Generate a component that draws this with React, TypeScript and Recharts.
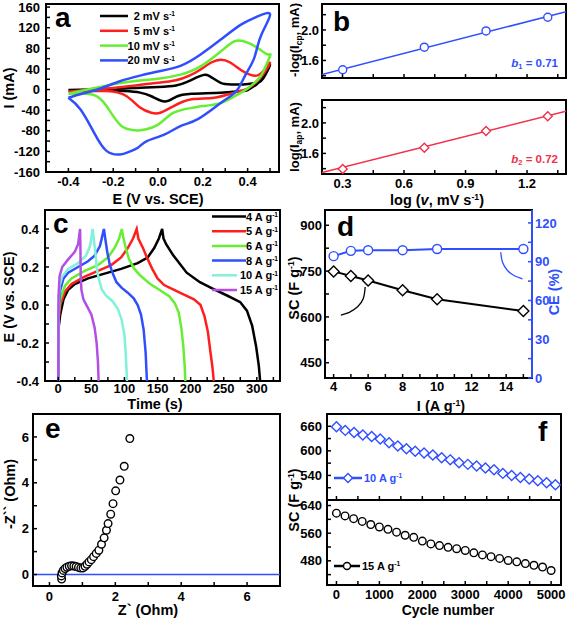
import React from "react";
import { Line, LineChart, ReferenceArea, ReferenceLine, XAxis, YAxis } from "recharts";

// ---------- a: CV loops, [E (V vs SCE), I (mA)] anodic sweep then back
const CV_RATES = ["2", "5", "10", "20"];
const CV_COLORS = ["#000000", "#ff1e1e", "#66ee33", "#2f4fff"];
const CV_2 = [
  [-0.4, -1], [-0.3, 0], [-0.2, 1.5], [-0.1, 3], [0, 5], [0.08, 8], [0.13, 15], [0.17, 23], [0.2, 28],
  [0.23, 26], [0.28, 13], [0.33, 10], [0.38, 10], [0.43, 12], [0.47, 22], [0.5, 48],
  [0.47, 25], [0.44, 10], [0.4, -1], [0.37, -3], [0.28, -6], [0.15, -8], [0.08, -14], [0.03, -23],
  [-0.03, -13], [-0.08, -6], [-0.15, -3], [-0.3, -1], [-0.4, -1],
];
const CV_5 = [
  [-0.4, -4], [-0.3, -1], [-0.2, 3], [-0.1, 8], [0, 13], [0.08, 18], [0.14, 27], [0.19, 39], [0.24, 53],
  [0.28, 58], [0.32, 53], [0.37, 38], [0.41, 29], [0.44, 27], [0.47, 36], [0.5, 52],
  [0.47, 30], [0.44, 15], [0.4, 2], [0.34, -6], [0.25, -16], [0.15, -19], [0.07, -32], [0.01, -45],
  [-0.03, -45], [-0.08, -35], [-0.14, -13], [-0.23, -3], [-0.4, -4],
];
const CV_10 = [
  [-0.4, -8], [-0.26, 5], [-0.11, 16], [0, 21], [0.1, 29], [0.19, 45], [0.28, 74], [0.33, 91],
  [0.36, 95], [0.4, 91], [0.45, 79], [0.49, 68], [0.5, 65],
  [0.47, 35], [0.445, 19], [0.4, 2], [0.37, -6], [0.28, -26], [0.2, -32], [0.16, -35], [0.07, -45],
  [0, -68], [-0.08, -79], [-0.12, -78], [-0.17, -68], [-0.23, -32], [-0.29, -10], [-0.4, -8],
];
const CV_20 = [
  [-0.4, -16], [-0.34, -8], [-0.27, 0], [-0.17, 16], [-0.08, 27], [0, 35], [0.1, 46], [0.19, 68],
  [0.28, 97], [0.37, 126], [0.44, 141], [0.5, 146],
  [0.46, 105], [0.43, 62], [0.39, 28], [0.355, 0], [0.32, -14], [0.28, -26], [0.18, -57], [0.1, -71],
  [0.03, -87], [-0.05, -100], [-0.09, -113], [-0.13, -121], [-0.17, -126], [-0.23, -119],
  [-0.285, -84], [-0.345, -39], [-0.4, -16],
];
const CV_LOOPS = [CV_2, CV_5, CV_10, CV_20];
const A_X_TICKS = [-0.4, -0.3, -0.2, -0.1, 0, 0.1, 0.2, 0.3, 0.4, 0.5];
const A_X_LABELS = [-0.4, -0.2, 0, 0.2, 0.4];
const A_Y_TICKS = [-160, -140, -120, -100, -80, -60, -40, -20, 0, 20, 40, 60, 80, 100, 120, 140, 160];
const A_Y_LABELS = [-160, -120, -80, -40, 0, 40, 80, 120, 160];

// ---------- b: log(v) vs log(peak current)
const B_LOGV = [0.301, 0.699, 1.0, 1.301];
const B_CATHODIC = [1.478, 1.774, 1.987, 2.166];
const B_ANODIC = [1.395, 1.673, 1.895, 2.087];
const B_FIT_X = [0.2, 1.39];
const B_FIT_CATHODIC = [1.414, 2.24];
const B_FIT_ANODIC = [1.35, 2.154];
const B_X_TICKS = [0.3, 0.45, 0.6, 0.75, 0.9, 1.05, 1.2, 1.35];
const B_X_LABELS = [0.3, 0.6, 0.9, 1.2];
const B_Y_TICKS = [1.4, 1.6, 1.8, 2.0, 2.2];
const B_Y_LABELS = [1.6, 2.0];

// ---------- c: GCD curves, [t (s), E (V)]
const GCD_RATES = ["4", "5", "6", "8", "10", "15"];
const GCD_COLORS = ["#000000", "#ff1e1e", "#66ee33", "#2f4fff", "#80f2d8", "#b44fe6"];
const GCD_4 = [
  [0, -0.4], [0.5, -0.12], [3, -0.05], [8, 0.03], [15, 0.08], [25, 0.11], [45, 0.14], [70, 0.165],
  [95, 0.19], [120, 0.22], [135, 0.25], [145, 0.3], [152, 0.35], [157, 0.4], [159, 0.35], [163, 0.32],
  [174, 0.26], [194, 0.17], [214, 0.12], [234, 0.085], [255, 0.05], [275, 0.015], [285, -0.03],
  [293, -0.11], [299, -0.22], [303, -0.32], [305, -0.4],
];
const GCD_5 = [
  [0, -0.4], [0.5, -0.08], [3, 0], [10, 0.07], [20, 0.11], [40, 0.15], [60, 0.18], [80, 0.21], [95, 0.25],
  [105, 0.3], [113, 0.35], [118.5, 0.4], [121, 0.35], [128, 0.3], [134, 0.25], [142, 0.19], [150, 0.14],
  [160, 0.105], [175, 0.08], [190, 0.055], [205, 0.03], [215, 0.0], [221, -0.06], [226, -0.14],
  [230, -0.25], [233, -0.33], [235, -0.4],
];
const GCD_6 = [
  [0, -0.4], [0.5, -0.05], [3, 0.03], [10, 0.1], [20, 0.14], [40, 0.18], [60, 0.21], [75, 0.25], [85, 0.3],
  [92, 0.35], [96, 0.4], [98, 0.36], [102, 0.3], [107, 0.24], [115, 0.19], [124, 0.155], [139, 0.11],
  [155, 0.075], [168, 0.045], [176, 0.01], [182, -0.04], [186, -0.12], [189, -0.22], [191, -0.32], [192, -0.4],
];
const GCD_8 = [
  [0, -0.4], [0.5, -0.02], [3, 0.08], [8, 0.14], [15, 0.17], [30, 0.2], [45, 0.23], [55, 0.26], [63, 0.31],
  [69, 0.4], [71, 0.35], [74, 0.28], [78, 0.21], [83, 0.16], [88, 0.12], [96, 0.09], [105, 0.065],
  [114, 0.035], [120, 0.0], [125, -0.05], [129, -0.13], [132, -0.25], [134, -0.4],
];
const GCD_10 = [
  [0, -0.4], [0.5, 0.0], [2, 0.1], [6, 0.15], [15, 0.19], [30, 0.22], [42, 0.26], [48, 0.31], [52, 0.4],
  [54, 0.34], [56, 0.28], [58, 0.2], [61, 0.14], [66, 0.08], [72, 0.05], [82, 0.02], [90, -0.02],
  [96, -0.08], [100, -0.16], [102, -0.26], [104, -0.4],
];
const GCD_15 = [
  [0, -0.4], [0.5, 0.05], [2, 0.15], [6, 0.2], [15, 0.24], [25, 0.28], [30, 0.32], [33, 0.4], [33.5, 0.3],
  [34, 0.15], [35, 0.08], [38, 0.03], [44, -0.01], [50, -0.05], [55, -0.12], [58, -0.2], [60, -0.3], [61, -0.4],
];
const GCD_CURVES = [GCD_4, GCD_5, GCD_6, GCD_8, GCD_10, GCD_15];
const C_X_TICKS = [0, 25, 50, 75, 100, 125, 150, 175, 200, 225, 250, 275, 300, 325];
const C_X_LABELS = [0, 50, 100, 150, 200, 250, 300];
const C_Y_TICKS = [-0.4, -0.3, -0.2, -0.1, 0, 0.1, 0.2, 0.3, 0.4];
const C_Y_LABELS = [-0.4, -0.2, 0, 0.2, 0.4];

// ---------- d: rate capability
const D_CURRENT = [4, 5, 6, 8, 10, 15];
const D_SC = [749, 734, 719, 687, 658, 619];
const D_CE = [94.3, 98.4, 98.9, 98.9, 99.8, 99.8];
const D_ARC_SC = [[5.83, 698], [5.72, 660], [5.39, 633], [4.91, 615], [4.42, 606]];
const D_ARC_CE = [[13.69, 97.3], [13.79, 89.6], [14.08, 83.2], [14.46, 79.3], [14.95, 76.7]];
const D_X_TICKS = [4, 5, 6, 7, 8, 9, 10, 11, 12, 13, 14, 15];
const D_X_LABELS = [4, 6, 8, 10, 12, 14];
const D_SC_TICKS = [450, 525, 600, 675, 750, 825, 900];
const D_SC_LABELS = [450, 600, 750, 900];
const D_CE_TICKS = [0, 15, 30, 45, 60, 75, 90, 105, 120];
const D_CE_LABELS = [0, 30, 60, 90, 120];

// ---------- e: Nyquist plot, [Z' , -Z''] (Ohm)
const EIS = [
  [0.37, -0.2], [0.36, -0.06], [0.38, 0.07], [0.42, 0.18], [0.47, 0.26], [0.53, 0.32], [0.6, 0.36],
  [0.67, 0.38], [0.74, 0.37], [0.81, 0.35], [0.88, 0.31], [0.95, 0.28], [1.02, 0.29], [1.08, 0.36],
  [1.14, 0.45], [1.2, 0.55], [1.27, 0.65], [1.34, 0.78], [1.42, 0.92], [1.5, 1.06], [1.58, 1.32],
  [1.66, 1.6], [1.73, 1.93], [1.78, 2.22], [1.86, 2.63], [1.93, 3.09], [2.01, 3.65], [2.14, 4.12],
  [2.27, 4.72], [2.44, 5.93],
];
const E_TICKS = [0, 1, 2, 3, 4, 5, 6, 7];
const E_LABELS = [0, 2, 4, 6];

// ---------- f: cycling
const F10_CYCLE = [0, 205, 410, 615, 820, 1020, 1225, 1430, 1630, 1835, 2040, 2245, 2450, 2650, 2855,
  3060, 3265, 3470, 3670, 3875, 4080, 4285, 4490, 4690, 4895, 5100];
const F10_SC = [659, 650, 645, 639, 635, 629, 620, 612, 605, 599, 595, 590, 583, 578, 571, 567, 563,
  558, 554, 545, 540, 535, 531, 527, 522, 517];
const F15_CYCLE = [0, 200, 400, 600, 800, 1000, 1200, 1400, 1600, 1800, 2000, 2200, 2400, 2600, 2800,
  3000, 3200, 3400, 3600, 3800, 4000, 4200, 4400, 4600, 4800, 5000];
const F15_SC = [618, 610, 602, 594, 585, 578, 571, 563, 554, 548, 537, 529, 524, 519, 515, 510, 503,
  497, 492, 487, 481, 477, 472, 467, 462, 452];
const F_X_TICKS = [0, 500, 1000, 1500, 2000, 2500, 3000, 3500, 4000, 4500, 5000];
const F_X_LABELS = [0, 1000, 2000, 3000, 4000, 5000];
const F10_TICKS = [510, 540, 570, 600, 630, 660];
const F10_LABELS = [540, 600, 660];
const F15_TICKS = [440, 480, 520, 560, 600, 640];
const F15_LABELS = [480, 560, 640];

const BLUE = "#2f4fff";
const RED = "#f0304a";
const TICK = { fill: "#000", fontSize: 13, fontWeight: 700 };
const AX = {
  type: "number" as const,
  allowDataOverflow: true,
  interval: 0 as const,
  tickSize: -4,
  axisLine: false,
  tickLine: { stroke: "#000", strokeWidth: 1.5 },
};

const xy = (a: number[][]) => a.map(([x, y]) => ({ x, y }));
const zip = (xs: number[], ys: number[]) => xs.map((x, i) => ({ x, y: ys[i] }));
const lab = (list: number[], fmt: (v: number) => string) => (v: number) =>
  list.some((m) => Math.abs(m - v) < 1e-6) ? fmt(v) : "";
const f1 = (v: number) => v.toFixed(1);

type Geo = { l: number; t: number; r: number; b: number; pl: number; pt: number; pr: number; pb: number };
const GA: Geo = { l: 46, t: 4, r: 279, b: 172, pl: 46, pt: 4, pr: 3, pb: 24 };
const GB1: Geo = { l: 322, t: 4, r: 566, b: 78, pl: 30, pt: 4, pr: 1, pb: 2 };
const GB2: Geo = { l: 322, t: 100, r: 566, b: 174, pl: 30, pt: 2, pr: 1, pb: 24 };
const GC: Geo = { l: 45, t: 210, r: 280, b: 381, pl: 45, pt: 3, pr: 3, pb: 24 };
const GD: Geo = { l: 325, t: 210, r: 532, b: 378, pl: 35, pt: 3, pr: 35, pb: 24 };
const GE: Geo = { l: 33, t: 414, r: 280, b: 586, pl: 33, pt: 3, pr: 3, pb: 24 };
const GF1: Geo = { l: 327, t: 414, r: 561, b: 500, pl: 37, pt: 3, pr: 5, pb: 1 };
const GF2: Geo = { l: 327, t: 500, r: 561, b: 585, pl: 37, pt: 1, pr: 5, pb: 24 };

function Plot({ g, mr, children }: { g: Geo; mr?: number; children: React.ReactNode }) {
  return (
    <div style={{ position: "absolute", left: g.l - g.pl, top: g.t - g.pt }}>
      <LineChart
        width={g.pl + g.r - g.l + g.pr}
        height={g.pt + g.b - g.t + g.pb}
        margin={{ top: g.pt, right: mr ?? g.pr, bottom: 0, left: 0 }}
      >
        {children}
      </LineChart>
    </div>
  );
}

function Txt(p: {
  x: number; y: number; size?: number; color?: string; rot?: boolean; align?: "left" | "right" | "center";
  italic?: boolean; children: React.ReactNode;
}) {
  const tx = p.align === "left" ? "0" : p.align === "right" ? "-100%" : "-50%";
  return (
    <div
      style={{
        position: "absolute", left: p.x, top: p.y, whiteSpace: "nowrap", lineHeight: 1,
        transform: `translate(${tx},-50%)${p.rot ? " rotate(-90deg)" : ""}`,
        fontSize: p.size ?? 14.5, color: p.color ?? "#000", fontWeight: 700,
        fontStyle: p.italic ? "italic" : "normal",
      }}
    >
      {p.children}
    </div>
  );
}
const Sup = ({ c }: { c: string }) => (
  <span style={{ fontSize: "0.6em", position: "relative", top: "-0.55em" }}>{c}</span>
);
const Sub = ({ c }: { c: string }) => (
  <span style={{ fontSize: "0.65em", position: "relative", top: "0.3em" }}>{c}</span>
);

function Diamond(color: string, s: number) {
  return (p: any) => (
    <path
      key={`d-${p.index}`}
      d={`M${p.cx},${p.cy - s}L${p.cx + s},${p.cy}L${p.cx},${p.cy + s}L${p.cx - s},${p.cy}Z`}
      fill="#fff"
      stroke={color}
      strokeWidth={1.4}
    />
  );
}
const ring = (color: string, r: number) => ({ r, fill: "#fff", stroke: color, strokeWidth: 1.4 });

function KeyLine({ x1, x2, y, color, marker }: { x1: number; x2: number; y: number; color: string; marker?: "o" | "d" }) {
  const mx = (x1 + x2) / 2;
  return (
    <svg style={{ position: "absolute", left: 0, top: 0, overflow: "visible" }} width={1} height={1}>
      <line x1={x1} x2={x2} y1={y} y2={y} stroke={color} strokeWidth={2.5} />
      {marker === "o" && <circle cx={mx} cy={y} r={3.5} fill="#fff" stroke={color} strokeWidth={1.4} />}
      {marker === "d" && (
        <path d={`M${mx},${y - 4.5}L${mx + 4.5},${y}L${mx},${y + 4.5}L${mx - 4.5},${y}Z`} fill="#fff" stroke={color} strokeWidth={1.4} />
      )}
    </svg>
  );
}

const frame = (x: number[], y: number[], yId?: string) => (
  <ReferenceArea
    x1={x[0]} x2={x[1]} y1={y[0]} y2={y[1]}
    {...(yId ? { yAxisId: yId } : {})}
    fill="none" stroke="#000" strokeWidth={2} ifOverflow="visible"
  />
);

export default function App() {
  const ax = [-0.5, 0.54], ay = [-160, 166];
  const bx = [0.2, 1.39], by1 = [1.37, 2.34], by2 = [1.33, 2.3];
  const cx = [-20, 335], cy = [-0.4, 0.5];
  const dx = [3.5, 15.5], dsc = [400, 950], dce = [0, 130];
  const ex = [-0.5, 7], ey = [-0.5, 7];
  const fx = [-220, 5230], fy1 = [480, 690], fy2 = [410, 656];

  return (
    <div
      style={{
        position: "absolute", left: 0, top: 0, width: 567, height: 619, background: "#fff",
        fontFamily: '"Liberation Sans", Arial, sans-serif', overflow: "hidden",
      }}
    >
      {/* a */}
      <Plot g={GA}>
        <XAxis {...AX} dataKey="x" domain={ax} ticks={A_X_TICKS} tickFormatter={lab(A_X_LABELS, f1)} height={GA.pb} tickMargin={9} tick={TICK} />
        <YAxis {...AX} domain={ay} ticks={A_Y_TICKS} tickFormatter={lab(A_Y_LABELS, String)} width={GA.pl} tickMargin={10} tick={TICK} />
        {frame(ax, ay)}
        {CV_LOOPS.map((loop, i) => (
          <Line key={CV_RATES[i]} data={xy(loop)} dataKey="y" type="natural" stroke={CV_COLORS[i]} strokeWidth={2.5} dot={false} isAnimationActive={false} />
        ))}
      </Plot>

      {/* b top */}
      <Plot g={GB1}>
        <XAxis {...AX} dataKey="x" domain={bx} ticks={B_X_TICKS} tickFormatter={() => ""} height={GB1.pb} />
        <YAxis {...AX} domain={by1} ticks={B_Y_TICKS} tickFormatter={lab(B_Y_LABELS, f1)} width={GB1.pl} tickMargin={7} tick={TICK} />
        {frame(bx, by1)}
        <Line data={zip(B_FIT_X, B_FIT_CATHODIC)} dataKey="y" stroke={BLUE} strokeWidth={1.5} dot={false} isAnimationActive={false} />
        <Line data={zip(B_LOGV, B_CATHODIC)} dataKey="y" stroke="none" dot={ring(BLUE, 4)} isAnimationActive={false} />
      </Plot>

      {/* b bottom */}
      <Plot g={GB2}>
        <XAxis {...AX} dataKey="x" domain={bx} ticks={B_X_TICKS} tickFormatter={lab(B_X_LABELS, f1)} height={GB2.pb} tickMargin={9} tick={TICK} />
        <YAxis {...AX} domain={by2} ticks={B_Y_TICKS} tickFormatter={lab(B_Y_LABELS, f1)} width={GB2.pl} tickMargin={7} tick={TICK} />
        {frame(bx, by2)}
        <Line data={zip(B_FIT_X, B_FIT_ANODIC)} dataKey="y" stroke={RED} strokeWidth={1.5} dot={false} isAnimationActive={false} />
        <Line data={zip(B_LOGV, B_ANODIC)} dataKey="y" stroke="none" dot={Diamond(RED, 4.5)} isAnimationActive={false} />
      </Plot>

      {/* c */}
      <Plot g={GC}>
        <XAxis {...AX} dataKey="x" domain={cx} ticks={C_X_TICKS} tickFormatter={lab(C_X_LABELS, String)} height={GC.pb} tickMargin={7} tick={TICK} />
        <YAxis {...AX} domain={cy} ticks={C_Y_TICKS} tickFormatter={lab(C_Y_LABELS, f1)} width={GC.pl} tickMargin={10} tick={TICK} />
        {frame(cx, cy)}
        {GCD_CURVES.map((c, i) => (
          <Line key={GCD_RATES[i]} data={xy(c)} dataKey="y" type="linear" stroke={GCD_COLORS[i]} strokeWidth={2.5} dot={false} isAnimationActive={false} />
        ))}
      </Plot>

      {/* d */}
      <Plot g={GD} mr={5}>
        <XAxis {...AX} dataKey="x" domain={dx} ticks={D_X_TICKS} tickFormatter={lab(D_X_LABELS, String)} height={GD.pb} tickMargin={8} tick={TICK} />
        <YAxis {...AX} yAxisId="sc" domain={dsc} ticks={D_SC_TICKS} tickFormatter={lab(D_SC_LABELS, String)} width={GD.pl} tickMargin={7} tick={TICK} />
        <YAxis
          {...AX} yAxisId="ce" orientation="right" domain={dce} ticks={D_CE_TICKS}
          tickFormatter={lab(D_CE_LABELS, String)} width={30} tickMargin={7}
          tick={{ ...TICK, fill: BLUE }} tickLine={{ stroke: BLUE, strokeWidth: 1.5 }}
          axisLine={{ stroke: BLUE, strokeWidth: 2 }}
        />
        {frame(dx, dsc, "sc")}
        <Line yAxisId="sc" data={zip(D_CURRENT, D_SC)} dataKey="y" type="linear" stroke="#000" strokeWidth={2} dot={Diamond("#000", 5.5)} isAnimationActive={false} />
        <Line yAxisId="ce" data={zip(D_CURRENT, D_CE)} dataKey="y" type="linear" stroke={BLUE} strokeWidth={2} dot={ring(BLUE, 4.5)} isAnimationActive={false} />
        <Line yAxisId="sc" data={xy(D_ARC_SC)} dataKey="y" type="natural" stroke="#000" strokeWidth={1.3} dot={false} isAnimationActive={false} />
        <Line yAxisId="ce" data={xy(D_ARC_CE)} dataKey="y" type="natural" stroke={BLUE} strokeWidth={1.3} dot={false} isAnimationActive={false} />
      </Plot>

      {/* e */}
      <Plot g={GE}>
        <XAxis {...AX} dataKey="x" domain={ex} ticks={E_TICKS} tickFormatter={lab(E_LABELS, String)} height={GE.pb} tickMargin={10} tick={TICK} />
        <YAxis {...AX} domain={ey} ticks={E_TICKS} tickFormatter={lab(E_LABELS, String)} width={GE.pl} tickMargin={8} tick={TICK} />
        <ReferenceLine y={0} stroke={BLUE} strokeWidth={1.5} />
        {frame(ex, ey)}
        <Line data={xy(EIS)} dataKey="y" stroke="none" dot={ring("#000", 3.8)} isAnimationActive={false} />
      </Plot>

      {/* f top */}
      <Plot g={GF1}>
        <XAxis {...AX} dataKey="x" domain={fx} ticks={F_X_TICKS} tickFormatter={() => ""} height={GF1.pb} />
        <YAxis {...AX} domain={fy1} ticks={F10_TICKS} tickFormatter={lab(F10_LABELS, String)} width={GF1.pl} tickMargin={9} tick={TICK} />
        {frame(fx, fy1)}
        <Line data={zip(F10_CYCLE, F10_SC)} dataKey="y" stroke="none" dot={Diamond(BLUE, 5)} isAnimationActive={false} />
      </Plot>

      {/* f bottom */}
      <Plot g={GF2}>
        <XAxis {...AX} dataKey="x" domain={fx} ticks={F_X_TICKS} tickFormatter={lab(F_X_LABELS, String)} height={GF2.pb} tickMargin={9} tick={TICK} />
        <YAxis {...AX} domain={fy2} ticks={F15_TICKS} tickFormatter={lab(F15_LABELS, String)} width={GF2.pl} tickMargin={9} tick={TICK} />
        {frame(fx, fy2)}
        <Line data={zip(F15_CYCLE, F15_SC)} dataKey="y" stroke="none" dot={ring("#000", 3.8)} isAnimationActive={false} />
      </Plot>

      {/* panel letters */}
      <Txt x={55} y={18} size={28} align="left">a</Txt>
      <Txt x={333} y={22} size={28} align="left">b</Txt>
      <Txt x={53} y={224} size={28} align="left">c</Txt>
      <Txt x={337} y={227} size={28} align="left">d</Txt>
      <Txt x={45} y={429} size={28} align="left">e</Txt>
      <Txt x={538} y={432} size={28} align="left">f</Txt>

      {/* axis titles */}
      <Txt x={9} y={88} rot>I (mA)</Txt>
      <Txt x={158} y={199}>E (V vs. SCE)</Txt>
      <Txt x={294} y={40} size={13} rot>-log(I<Sub c="cp" />, mA)</Txt>
      <Txt x={294} y={137} size={13} rot>log(I<Sub c="ap" />, mA)</Txt>
      <Txt x={437} y={200}>log (<i>v</i>, mV s<Sup c="-1" />)</Txt>
      <Txt x={9} y={297} rot>E (V vs. SCE)</Txt>
      <Txt x={155} y={404}>Time (s)</Txt>
      <Txt x={294} y={288} rot>SC (F g<Sup c="-1" />)</Txt>
      <Txt x={554} y={292} rot color={BLUE}>CE (%)</Txt>
      <Txt x={441} y={406}>I (A g<Sup c="-1" />)</Txt>
      <Txt x={10} y={494} rot>-Z`` (Ohm)</Txt>
      <Txt x={148} y={610}>Z` (Ohm)</Txt>
      <Txt x={294} y={500} rot>SC (F g<Sup c="-1" />)</Txt>
      <Txt x={448} y={610} size={14}>Cycle number</Txt>

      {/* b values */}
      <Txt x={558} y={64} size={11.5} color={BLUE} align="right"><i>b</i><Sub c="1" /> = 0.71</Txt>
      <Txt x={558} y={160} size={11.5} color={RED} align="right"><i>b</i><Sub c="2" /> = 0.72</Txt>

      {/* a legend */}
      {CV_RATES.map((r, i) => (
        <React.Fragment key={`la${r}`}>
          <KeyLine x1={100} x2={128} y={16 + i * 14.8} color={CV_COLORS[i]} />
          <Txt x={175} y={16 + i * 14.8} size={11} align="right">{r} mV s<Sup c="-1" /></Txt>
        </React.Fragment>
      ))}

      {/* c legend */}
      {GCD_RATES.map((r, i) => (
        <React.Fragment key={`lc${r}`}>
          <KeyLine x1={212} x2={r.length > 1 ? 237 : 246} y={216.5 + i * 14.7} color={GCD_COLORS[i]} />
          <Txt x={278} y={216.5 + i * 14.7} size={11} align="right">{r} A g<Sup c="-1" /></Txt>
        </React.Fragment>
      ))}

      {/* f legends */}
      <KeyLine x1={334} x2={362} y={478} color={BLUE} marker="d" />
      <Txt x={364} y={478} size={11} color={BLUE} align="left">10 A g<Sup c="-1" /></Txt>
      <KeyLine x1={334} x2={360} y={566} color="#000" marker="o" />
      <Txt x={362} y={566} size={11} align="left">15 A g<Sup c="-1" /></Txt>
    </div>
  );
}
